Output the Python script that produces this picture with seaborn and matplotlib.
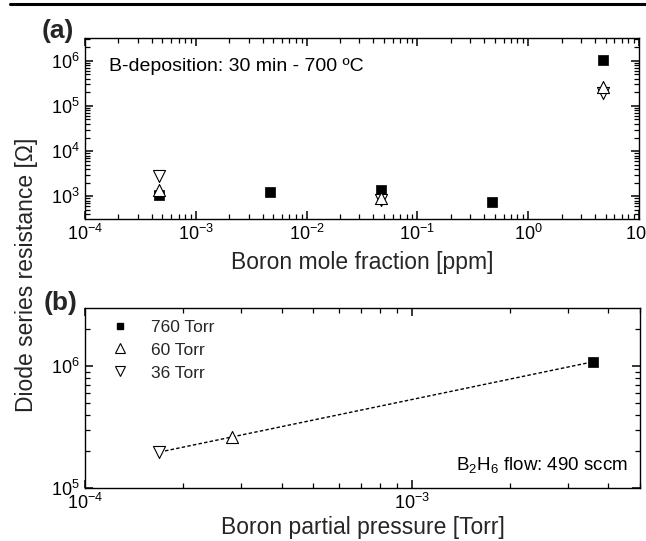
import numpy as np
import pandas as pd
import matplotlib
matplotlib.use("Agg")
import matplotlib.pyplot as plt
import seaborn as sns
from matplotlib.lines import Line2D
from matplotlib.ticker import LogLocator, NullFormatter

sns.set_theme(style="ticks")
plt.rcParams["font.family"] = ["Liberation Sans", "DejaVu Sans"]
plt.rcParams["mathtext.fontset"] = "custom"
plt.rcParams["mathtext.rm"] = "Liberation Sans"
plt.rcParams["mathtext.it"] = "Liberation Sans:italic"
plt.rcParams["mathtext.bf"] = "Liberation Sans:bold"
plt.rcParams["xtick.minor.visible"] = True
plt.rcParams["ytick.minor.visible"] = True

# ---- data -------------------------------------------------------------
# (a) series resistance vs boron mole fraction in the gas phase
frac_760 = [4.7e-4, 4.7e-3, 4.7e-2, 4.7e-1, 4.7]
res_760 = [1.08e3, 1.25e3, 1.35e3, 7.7e2, 1.05e6]
frac_60 = [4.7e-4, 4.7e-2, 4.7]
res_60 = [1.36e3, 9.0e2, 2.6e5]
frac_36 = [4.7e-4, 4.7e-2, 4.7]
res_36 = [2.86e3, 8.4e2, 1.95e5]

# (b) series resistance vs boron partial pressure
pressures = ["760 Torr", "60 Torr", "36 Torr"]
pp_b = [3.58e-3, 2.82e-4, 1.69e-4]
res_b = [1.08e6, 2.62e5, 1.97e5]

# ---- figure -------------------------------------------------------------
W, H = 646, 541
fig = plt.figure(figsize=(W / 100, H / 100), dpi=100)
fig.patch.set_facecolor("white")

ax_a = fig.add_axes([85 / W, 1 - 219 / H, (639 - 85) / W, (219 - 38) / H])
ax_b = fig.add_axes([85 / W, 1 - 488 / H, (640 - 85) / W, (488 - 308) / H])

sq_kw = dict(marker="s", color="black", edgecolor="black", s=55, linewidth=0.5)
up_kw = dict(marker="^", facecolor="white", edgecolor="black", s=75, linewidth=0.8)
dn_kw = dict(marker="v", facecolor="white", edgecolor="black", s=75, linewidth=0.8)

# panel (a)
sns.scatterplot(x=frac_760, y=res_760, ax=ax_a, zorder=3, **sq_kw)
sns.scatterplot(x=frac_36, y=res_36, ax=ax_a, zorder=4, **dn_kw)
sns.scatterplot(x=frac_60, y=res_60, ax=ax_a, zorder=5, **up_kw)
ax_a.set_xscale("log")
ax_a.set_yscale("log")
ax_a.set_xlim(1e-4, 1e1)
ax_a.set_ylim(10 ** 2.5, 10 ** 6.5)
ax_a.set_xlabel("Boron mole fraction [ppm]", fontsize=16.5, labelpad=5)
ax_a.text(0.043, 0.84, "B-deposition: 30 min - 700 ºC", transform=ax_a.transAxes,
          fontsize=14, ha="left", va="center", color="black")

# panel (b)
df_b = pd.DataFrame({"pp": pp_b, "res": res_b, "p": pressures})
sns.lineplot(data=df_b, x="pp", y="res", ax=ax_b, color="black",
             linestyle=(0, (2.5, 1.6)), linewidth=1.0, zorder=2)
sns.scatterplot(x=[pp_b[0]], y=[res_b[0]], ax=ax_b, zorder=3, label=pressures[0], **sq_kw)
sns.scatterplot(x=[pp_b[1]], y=[res_b[1]], ax=ax_b, zorder=3, label=pressures[1], **up_kw)
sns.scatterplot(x=[pp_b[2]], y=[res_b[2]], ax=ax_b, zorder=3, label=pressures[2], **dn_kw)
ax_b.set_xscale("log")
ax_b.set_yscale("log")
ax_b.set_xlim(1e-4, 5e-3)
ax_b.set_ylim(1e5, 10 ** 6.475)
ax_b.set_xlabel("Boron partial pressure [Torr]", fontsize=16.5, labelpad=2)
ax_b.text(0.978, 0.128, r"B$_2$H$_6$ flow: 490 sccm", transform=ax_b.transAxes,
          fontsize=13.5, ha="right", va="center", color="black")

leg_handles = [
    Line2D([], [], marker="s", ls="none", color="black", markersize=5),
    Line2D([], [], marker="^", ls="none", markerfacecolor="white", markeredgecolor="black",
           markersize=7, markeredgewidth=0.8),
    Line2D([], [], marker="v", ls="none", markerfacecolor="white", markeredgecolor="black",
           markersize=7, markeredgewidth=0.8),
]
ax_b.legend(leg_handles, pressures, loc="upper left", bbox_to_anchor=(0.035, 0.975),
            frameon=False, fontsize=12.5, handlelength=1.0, handletextpad=1.3,
            labelspacing=0.45, borderaxespad=0.0)

for ax in (ax_a, ax_b):
    ax.set_ylabel("")
    for sp in ax.spines.values():
        sp.set_visible(True)
        sp.set_color("black")
        sp.set_linewidth(1.0)
    ax.xaxis.set_minor_locator(LogLocator(base=10, subs=np.arange(2, 10), numticks=30))
    ax.yaxis.set_minor_locator(LogLocator(base=10, subs=np.arange(2, 10), numticks=30))
    ax.xaxis.set_minor_formatter(NullFormatter())
    ax.yaxis.set_minor_formatter(NullFormatter())
    ax.tick_params(which="both", direction="in", top=True, right=True,
                   bottom=True, left=True, colors="black", labelsize=13)
    ax.tick_params(which="major", length=6, width=1.1)
    ax.tick_params(which="minor", length=3.5, width=0.9)
    ax.grid(False)

ax_a.yaxis.set_major_locator(LogLocator(base=10, numticks=10))

# shared y label and panel tags
fig.text(27 / W, 1 - 275 / H, "Diode series resistance [Ω]", rotation=90,
         ha="center", va="center", fontsize=16.5)
fig.text(58 / W, 1 - 31 / H, "(a)", ha="center", va="center", fontsize=19, fontweight="bold")
fig.text(61 / W, 1 - 303 / H, "(b)", ha="center", va="center", fontsize=19, fontweight="bold")

# rule across the top of the page
fig.add_artist(Line2D([10 / W, 1.0], [1 - 4 / H, 1 - 4 / H], transform=fig.transFigure,
                      color="black", linewidth=2.2))

fig.savefig("out.png", dpi=100, facecolor="white")
